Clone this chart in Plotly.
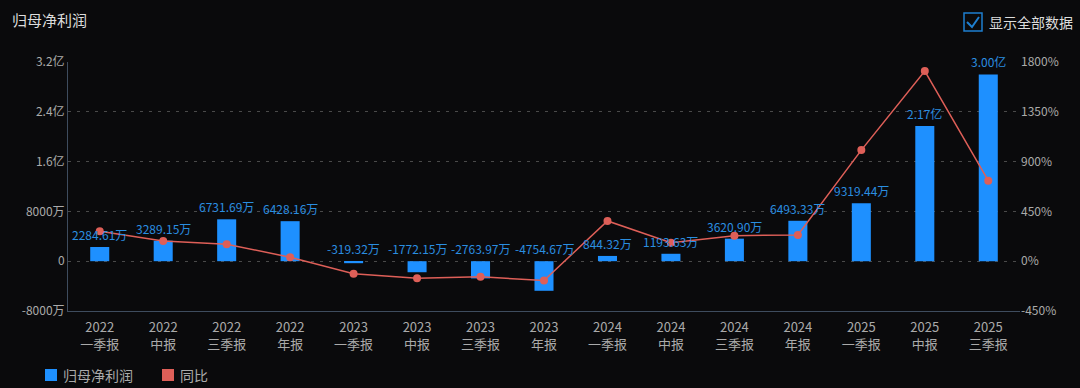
import plotly.graph_objects as go

categories = ["2022<br>一季报", "2022<br>中报", "2022<br>三季报", "2022<br>年报",
              "2023<br>一季报", "2023<br>中报", "2023<br>三季报", "2023<br>年报",
              "2024<br>一季报", "2024<br>中报", "2024<br>三季报", "2024<br>年报",
              "2025<br>一季报", "2025<br>中报", "2025<br>三季报"]
# net profit attributable to parent, in 万元
profit = [2284.61, 3289.15, 6731.69, 6428.16,
          -319.32, -1772.15, -2763.97, -4754.67,
          844.32, 1193.63, 3620.90, 6493.33,
          9319.44, 21700.0, 30000.0]
# YoY growth, %
yoy = [270, 183, 153, 36,
       -114, -154, -141, -174,
       364, 167, 231, 237,
       1004, 1718, 728]

left_tickvals = [-8000, 0, 8000, 16000, 24000, 32000]
left_ticktext = ["-8000万", "0", "8000万", "1.6亿", "2.4亿", "3.2亿"]
right_tickvals = [-450, 0, 450, 900, 1350, 1800]
right_ticktext = ["-450%", "0%", "450%", "900%", "1350%", "1800%"]

BAR = "#1e90ff"
LINE = "#de5f58"
BG = "#0a0a0c"
FONT = "Noto Sans CJK SC"

def fmt(v):
    if abs(v) >= 10000:
        return f"{v/10000:.2f}亿"
    return f"{v:.2f}万"

W, H = 1080, 388
L, R, T, B = 68, 60, 62, 77
pw, ph = W - L - R, H - T - B
def px(x):
    return (x - L) / pw
def py(y):
    return (H - B - y) / ph

fig = go.Figure()
fig.add_trace(go.Bar(x=categories, y=profit, width=0.3,
                     marker=dict(color=BAR, line=dict(width=0)),
                     showlegend=False, yaxis="y", hoverinfo="skip"))
fig.add_trace(go.Scatter(x=categories, y=yoy, mode="lines+markers", yaxis="y2",
                         line=dict(color=LINE, width=1.5),
                         marker=dict(color=LINE, size=8), showlegend=False,
                         hoverinfo="skip"))

for c, v in zip(categories, profit):
    fig.add_annotation(x=c, y=max(v, 0), xref="x", yref="y", text=fmt(v),
                       showarrow=False, yanchor="bottom", yshift=2,
                       font=dict(color="#2a8ee0", size=12, family=FONT))

fig.update_layout(
    width=W, height=H,
    paper_bgcolor=BG, plot_bgcolor=BG,
    margin=dict(l=L, r=R, t=T, b=B),
    font=dict(family=FONT, color="#aaaaaa", size=12),
    showlegend=False,
    xaxis=dict(showline=True, linecolor="#3e4c5e", linewidth=1, showgrid=False,
               ticks="", tickfont=dict(color="#aaaaaa", size=13),
               ticklabelstandoff=4, range=[-0.5, 14.5]),
    yaxis=dict(range=[-8000, 32000], tickvals=left_tickvals, ticktext=left_ticktext,
               showline=True, linecolor="#3e4c5e", linewidth=1,
               showgrid=True, gridcolor="#4a4a4a", griddash="3px,6px", gridwidth=1,
               zeroline=False, tickfont=dict(color="#aaaaaa", size=12), ticks="",
               automargin=False),
    yaxis2=dict(range=[-450, 1800], tickvals=right_tickvals, ticktext=right_ticktext,
                overlaying="y", side="right", showgrid=False, zeroline=False,
                showline=False, tickfont=dict(color="#aaaaaa", size=12),
                automargin=False),
)

# title
fig.add_annotation(x=px(10), y=py(20), xref="paper", yref="paper", text="归母净利润",
                   showarrow=False, xanchor="left", yanchor="middle",
                   font=dict(color="#dddddd", size=15, family=FONT))
# checkbox
fig.add_annotation(x=px(987), y=py(22), xref="paper", yref="paper", text="显示全部数据",
                   showarrow=False, xanchor="left", yanchor="middle",
                   font=dict(color="#dddddd", size=14, family=FONT))
fig.add_shape(type="rect", xref="paper", yref="paper",
              x0=px(964), x1=px(982), y0=py(31), y1=py(13),
              line=dict(color="#1e7fd0", width=1.5))
fig.add_shape(type="path", xref="paper", yref="paper",
              path=f"M {px(967)} {py(22)} L {px(972)} {py(27)} L {px(979)} {py(17)}",
              line=dict(color="#1e7fd0", width=2))

# manual legend
legend_items = [("归母净利润", BAR, 45), ("同比", LINE, 162)]
for name, color, x0 in legend_items:
    fig.add_shape(type="rect", xref="paper", yref="paper",
                  x0=px(x0), x1=px(x0 + 12), y0=py(381), y1=py(369),
                  fillcolor=color, line=dict(width=0))
    fig.add_annotation(x=px(x0 + 16), y=py(375), xref="paper", yref="paper",
                       text=name, showarrow=False, xanchor="left", yanchor="middle",
                       font=dict(color="#aaaaaa", size=14, family=FONT))

fig.write_html("out.html", config={"displayModeBar": False},
               post_script="document.body.style.margin='0';document.body.style.overflow='hidden';")
